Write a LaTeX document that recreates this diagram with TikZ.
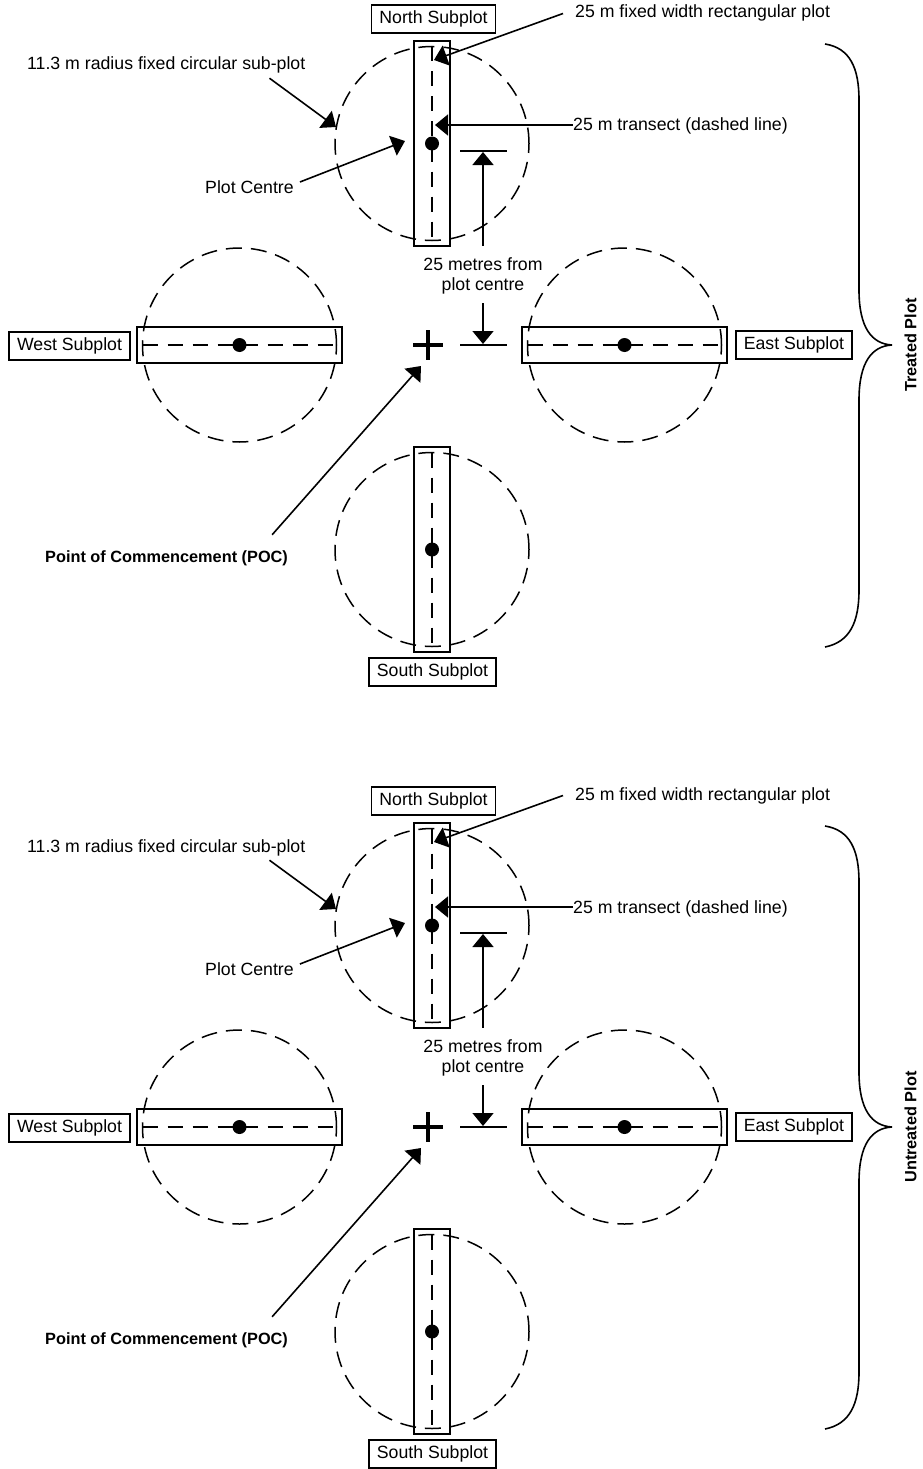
\documentclass[tikz,border=0pt]{standalone}
\usepackage{fontspec}
\setmainfont{Liberation Sans}
\usetikzlibrary{arrows.meta,calc}
\newcommand\mylbl{\fontsize{17.7}{21}\selectfont}
\newcommand\myblbl{\fontsize{16.3}{20}\selectfont\bfseries}
\tikzset{
 plotc/.style={circle, draw, line width=1.5pt, dash pattern=on 16pt off 9pt, minimum size=194pt, inner sep=0pt, outer sep=0pt},
 vrect/.style={draw, line width=1.6pt, minimum width=36pt, minimum height=205pt, inner sep=0pt, outer sep=0pt},
 hrect/.style={draw, line width=1.6pt, minimum width=205pt, minimum height=36pt, inner sep=0pt, outer sep=0pt},
 tran/.style={line width=1.5pt, dash pattern=on 15pt off 10pt},
 arr/.style={line width=1.6pt, -{Triangle[length=13pt,width=21pt]}},
 barln/.style={line width=1.6pt},
 sbox/.style={draw, line width=1.5pt, inner xsep=8pt, inner ysep=0pt, minimum height=28pt, text height=12.5pt, text depth=3.5pt, font=\mylbl},
 plainlbl/.style={inner sep=0pt, text height=12.5pt, text depth=3.5pt, font=\mylbl},
 boldlbl/.style={inner sep=0pt, text height=12pt, text depth=3.5pt, font=\myblbl},
}
\newcommand\plotblock[2]{%
  \node[plotc] (#1Nc) at (432,143.5) {};
  \node[plotc] (#1Wc) at (239.5,345) {};
  \node[plotc] (#1Ec) at (624.5,345) {};
  \node[plotc] (#1Sc) at (432,549.5) {};
  \node[vrect] (#1Nr) at (432,143.5) {};
  \node[vrect] (#1Sr) at (432,549.5) {};
  \node[hrect] (#1Wr) at (239.5,345) {};
  \node[hrect] (#1Er) at (624.5,345) {};
  \draw[tran] (#1Nc.north) -- (#1Nc.south);
  \draw[tran] (#1Sc.north) -- (#1Sc.south);
  \draw[tran] (#1Wc.west) -- (#1Wc.east);
  \draw[tran] (#1Ec.west) -- (#1Ec.east);
  \fill (#1Nc.center) circle[radius=7pt];
  \fill (#1Sc.center) circle[radius=7pt];
  \fill (#1Wc.center) circle[radius=7pt];
  \fill (#1Ec.center) circle[radius=7pt];
  % point of commencement
  \coordinate (#1poc) at (428,345);
  \draw[line width=3.4pt] ([xshift=-15pt]#1poc) -- ([xshift=15pt]#1poc)
        ([yshift=15pt]#1poc) -- ([yshift=-15pt]#1poc);
  % subplot labels
  \node[sbox] (#1Nl) at (433.5,19) {North Subplot};
  \node[sbox] (#1Wl) at (69.5,346) {West Subplot};
  \node[sbox] (#1El) at (794,345) {East Subplot};
  \node[sbox] (#1Sl) at (432.5,672) {South Subplot};
  % annotations
  \node[plainlbl, anchor=west] (#1fw) at (575,13.5) {25 m fixed width rectangular plot};
  \coordinate (#1fwT) at (434,60);
  \draw[arr] ([xshift=-12pt]#1fw.west) -- (#1fwT);
  \node[plainlbl, anchor=west] (#1tr) at (573,126.5) {25 m transect (dashed line)};
  \coordinate (#1trT) at (435,125);
  \draw[arr] (#1tr.west |- #1trT) -- (#1trT);
  \node[plainlbl, anchor=west] (#1rad) at (27,65.5) {11.3 m radius fixed circular sub-plot};
  \coordinate (#1radT) at (336,127);
  \draw[arr] ([xshift=-36pt,yshift=-4.5pt]#1rad.south east) -- (#1radT);
  \node[plainlbl, anchor=west] (#1pc) at (205,188.5) {Plot Centre};
  \coordinate (#1pcT) at (405,141);
  \draw[arr] ([xshift=6pt,yshift=6.5pt]#1pc.east) -- (#1pcT);
  \node[boldlbl, anchor=west] (#1pl) at (45,557.75) {Point of Commencement (POC)};
  \coordinate (#1plT) at (421,366);
  \draw[arr] ([xshift=-16pt,yshift=15pt]#1pl.north east) -- (#1plT);
  % 25 metres dimension
  \node[plainlbl] (#1m1) at (483,265.5) {25 metres from};
  \node[plainlbl] (#1m2) at (483,285.5) {plot centre};
  \coordinate (#1bu) at (483,151);
  \coordinate (#1bl) at (483,345);
  \draw[barln] ([xshift=-23pt]#1bu) -- ([xshift=24pt]#1bu);
  \draw[barln] ([xshift=-23pt]#1bl) -- ([xshift=24pt]#1bl);
  \draw[arr] ([yshift=11.5pt]#1m1.north) -- ([yshift=-1pt]#1bu);
  \draw[arr] ([yshift=-9.5pt]#1m2.south) -- ([yshift=1pt]#1bl);
  % brace
  \draw[line width=1.6pt] (825,44) .. controls (850,48) and (859,68) .. (859,100)
     -- (859,290) .. controls (859,328) and (872,344) .. (892,345)
     .. controls (872,346) and (859,362) .. (859,400)
     -- (859,590) .. controls (859,622) and (850,642) .. (825,647);
  \node[boldlbl, rotate=90] (#1side) at (912,345) {#2};
}
\begin{document}
\begin{tikzpicture}[x=1pt,y=-1pt]
\useasboundingbox (0,0) rectangle (922,1469);
\begin{scope}
\plotblock{T}{Treated Plot}
\end{scope}
\begin{scope}[yshift=-782pt]
\plotblock{U}{Untreated Plot}
\end{scope}
\end{tikzpicture}
\end{document}
